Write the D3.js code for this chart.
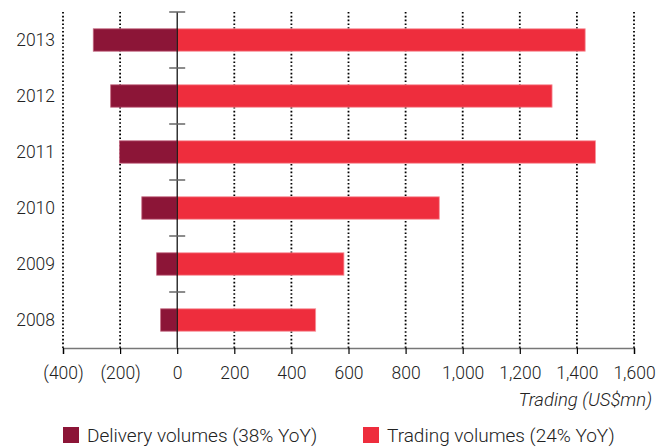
<!DOCTYPE html>
<meta charset="utf-8">
<style>
    body { margin: 0; background: #fff; }
    text { font-family: Roboto, "Liberation Sans", sans-serif; font-weight: 300; fill: #222; }
    .grid line { stroke: #000; stroke-width: 1.8; stroke-dasharray: 1.6,2.2; }
    .delivery { fill: #8c1537; stroke: #c46a82; stroke-width: 0.8; }
    .trading { fill: #ee2d3d; stroke: #f7929a; stroke-width: 0.8; }
</style>

<svg width="671" height="447"></svg>

<script src="https://d3js.org/d3.v7.min.js"></script>

<script>
var years = ["2013", "2012", "2011", "2010", "2009", "2008"];
var delivery = [-294, -233, -202, -124, -72, -58];
var trading = [1429, 1313, 1465, 918, 584, 485];
var xTicks = [-400, -200, 0, 200, 400, 600, 800, 1000, 1200, 1400, 1600];
var legendLabels = ["Delivery volumes (38% YoY)", "Trading volumes (24% YoY)"];

var svg = d3.select("svg");

var x = d3.scaleLinear()
    .domain([-400, 1600])
    .range([63, 634]);

var y = d3.scaleBand()
    .domain(years)
    .range([12, 348])
    .paddingInner(0.6)
    .paddingOuter(0.3);

// dotted gridlines
svg.append("g")
    .attr("class", "grid")
    .selectAll("line")
    .data(xTicks.filter(function(d) { return d !== 0; }))
    .enter().append("line")
    .attr("x1", function(d) { return x(d); })
    .attr("x2", function(d) { return x(d); })
    .attr("y1", 12)
    .attr("y2", 348);

// bars
var rows = years.map(function(yr, i) {
    return { year: yr, delivery: delivery[i], trading: trading[i] };
});

svg.append("g").selectAll("rect")
    .data(rows)
    .enter().append("rect")
    .attr("class", "delivery")
    .attr("x", function(d) { return x(d.delivery); })
    .attr("width", function(d) { return x(0) - x(d.delivery); })
    .attr("y", function(d) { return y(d.year); })
    .attr("height", y.bandwidth());

svg.append("g").selectAll("rect")
    .data(rows)
    .enter().append("rect")
    .attr("class", "trading")
    .attr("x", x(0))
    .attr("width", function(d) { return x(d.trading) - x(0); })
    .attr("y", function(d) { return y(d.year); })
    .attr("height", y.bandwidth());

// zero line with category separators
svg.append("line")
    .attr("x1", x(0)).attr("x2", x(0))
    .attr("y1", 12).attr("y2", 348)
    .attr("stroke", "#000")
    .attr("stroke-width", 1.2);

svg.append("g").selectAll("line")
    .data(years)
    .enter().append("line")
    .attr("x1", x(0) - 8).attr("x2", x(0) + 8)
    .attr("y1", function(d) { return y(d) - y.step() * y.paddingInner() / 2; })
    .attr("y2", function(d) { return y(d) - y.step() * y.paddingInner() / 2; })
    .attr("stroke", "#666")
    .attr("stroke-width", 1.5);

// year labels
svg.append("g").selectAll("text")
    .data(years)
    .enter().append("text")
    .attr("x", 55)
    .attr("y", function(d) { return y(d) + y.bandwidth() / 2; })
    .attr("dy", "0.36em")
    .attr("text-anchor", "end")
    .style("font-size", "17.5px")
    .text(function(d) { return d; });

// x axis
var fmt = d3.format(",");
var xAxis = d3.axisBottom(x)
    .tickValues(xTicks)
    .tickSize(6)
    .tickPadding(13)
    .tickFormat(function(d) { return d < 0 ? "(" + fmt(-d) + ")" : fmt(d); });

var ax = svg.append("g")
    .attr("transform", "translate(0,348)")
    .call(xAxis);
ax.select(".domain").attr("stroke", "#777").attr("stroke-width", 1.6);
ax.selectAll(".tick line").attr("stroke", "#000").attr("stroke-width", 1.2);
ax.selectAll(".tick text")
    .style("font-size", "17.5px")
    .style("font-family", "Roboto, 'Liberation Sans', sans-serif")
    .attr("fill", "#222");

svg.append("text")
    .attr("x", 652)
    .attr("y", 406)
    .attr("text-anchor", "end")
    .style("font-size", "18.5px")
    .style("font-style", "italic")
    .text("Trading (US$mn)");

// legend
var legend = svg.append("g").selectAll("g")
    .data(legendLabels)
    .enter().append("g")
    .attr("transform", function(d, i) { return "translate(" + (i === 0 ? 63 : 363) + ",427)"; });

legend.append("rect")
    .attr("width", 16)
    .attr("height", 16)
    .attr("fill", function(d, i) { return i === 0 ? "#8c1537" : "#ee2d3d"; });

legend.append("text")
    .attr("x", 24)
    .attr("y", 15)
    .style("font-size", "19px")
    .text(function(d) { return d; });
</script>
